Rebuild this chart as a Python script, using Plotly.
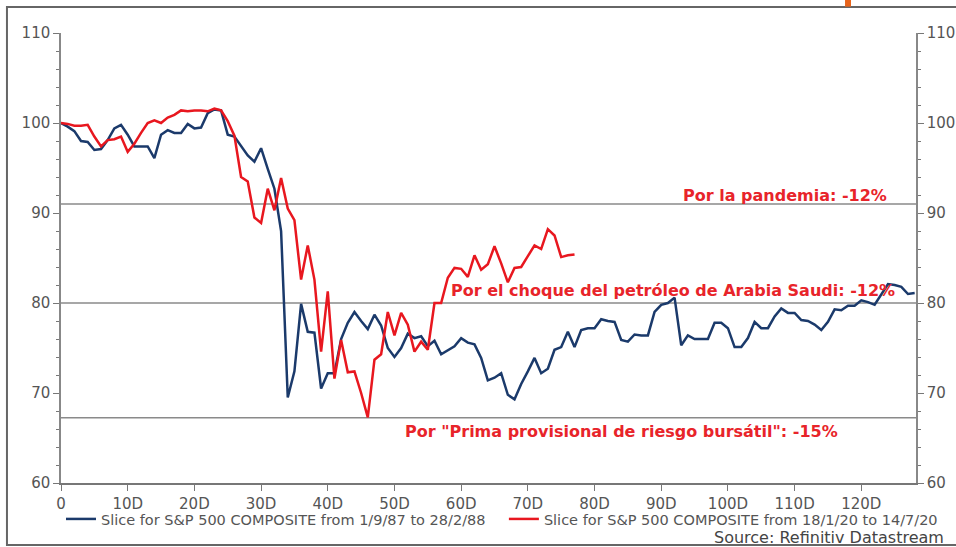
import plotly.graph_objects as go

# ---- data ----
blue_name = "Slice for S&P 500 COMPOSITE from 1/9/87 to 28/2/88"
red_name = "Slice for S&P 500 COMPOSITE from 18/1/20 to 14/7/20"

blue_values = [
    100.0, 99.6, 99.1, 98.0, 97.9, 97.0, 97.1, 98.1, 99.4, 99.8,
    98.7, 97.4, 97.4, 97.4, 96.1, 98.7, 99.2, 98.9, 98.9, 99.9,
    99.4, 99.5, 101.1, 101.5, 101.4, 98.7, 98.5, 97.4, 96.4, 95.7,
    97.2, 94.9, 92.7, 88.0, 69.5, 72.4, 79.9, 76.8, 76.7, 70.5,
    72.2, 72.2, 76.0, 77.8, 79.0, 78.0, 77.1, 78.7, 77.5, 75.0,
    74.0, 75.0, 76.6, 76.1, 76.3, 75.2, 75.8, 74.3, 74.8, 75.2,
    76.1, 75.6, 75.4, 73.9, 71.4, 71.7, 72.2, 69.8, 69.3, 71.0,
    72.4, 73.9, 72.2, 72.7, 74.8, 75.1, 76.8, 75.1, 77.0, 77.2,
    77.2, 78.2, 78.0, 77.9, 75.9, 75.7, 76.5, 76.4, 76.4, 79.0,
    79.8, 80.0, 80.6, 75.3, 76.4, 76.0, 76.0, 76.0, 77.8, 77.8,
    77.2, 75.1, 75.1, 76.1, 77.9, 77.2, 77.2, 78.5, 79.4, 78.9,
    78.9, 78.1, 78.0, 77.6, 77.0, 77.9, 79.3, 79.2, 79.7, 79.7,
    80.3, 80.1, 79.8, 81.0, 82.1, 82.0, 81.8, 81.0, 81.1,
]
red_values = [
    100.0, 99.9, 99.7, 99.7, 99.8, 98.5, 97.4, 98.1, 98.2, 98.5,
    96.8, 97.7, 98.9, 100.0, 100.3, 100.0, 100.6, 100.9, 101.4, 101.3,
    101.4, 101.4, 101.3, 101.6, 101.4, 100.2, 98.6, 94.0, 93.5, 89.5,
    88.9, 92.7, 90.3, 93.9, 90.5, 89.2, 82.6, 86.4, 82.6, 74.6,
    81.3, 71.6, 75.9, 72.3, 72.4, 70.0, 67.3, 73.7, 74.3, 79.0,
    76.4, 78.9, 77.6, 74.6, 75.7, 74.8, 80.0, 80.0, 82.8, 83.9,
    83.8, 82.9, 85.3, 83.7, 84.3, 86.3, 84.4, 82.3, 83.9, 84.0,
    85.2, 86.4, 86.0, 88.2, 87.5, 85.1, 85.3, 85.4,
]
blue_days = list(range(len(blue_values)))
red_days = list(range(len(red_values)))

x_tick_vals = [0, 10, 20, 30, 40, 50, 60, 70, 80, 90, 100, 110, 120]
x_tick_text = ["0", "10D", "20D", "30D", "40D", "50D", "60D", "70D", "80D",
               "90D", "100D", "110D", "120D"]
y_tick_vals = [60, 70, 80, 90, 100, 110]

ref_levels = [91.0, 80.0, 67.25]
ref_labels = ["Por la pandemia: -12%",
              "Por el choque del petróleo de Arabia Saudi: -12%",
              "Por \"Prima provisional de riesgo bursátil\": -15%"]
ref_label_x = [108.6, 91.7, 84.1]
ref_label_y = [92.0, 81.4, 65.7]

BLUE = "#1b3a6b"
RED = "#e8171f"
GRAY_TXT = "#555555"
FONT = "DejaVu Sans, Verdana, sans-serif"

fig = go.Figure()
fig.add_trace(go.Scatter(x=blue_days, y=blue_values, mode="lines", name=blue_name,
                         line=dict(color=BLUE, width=2.5), yaxis="y", legend="legend"))
fig.add_trace(go.Scatter(x=red_days, y=red_values, mode="lines", name=red_name,
                         line=dict(color=RED, width=2.5), yaxis="y2", legend="legend2"))

for lvl in ref_levels:
    fig.add_shape(type="line", xref="paper", x0=0, x1=1, yref="y", y0=lvl, y1=lvl,
                  line=dict(color="#8a8a8a", width=1.5), layer="below")

for txt, xv, yv in zip(ref_labels, ref_label_x, ref_label_y):
    fig.add_annotation(x=xv, y=yv, xref="x", yref="y", text=f"<b>{txt}</b>",
                       showarrow=False, xanchor="center", yanchor="middle",
                       font=dict(family=FONT, size=16, color="#e8242a"))

fig.add_annotation(x=1.035, y=-0.12, xref="paper", yref="paper",
                   text="Source: Refinitiv Datastream", showarrow=False,
                   xanchor="right", yanchor="middle",
                   font=dict(family=FONT, size=16, color="#444444"))

# image frame and small orange mark
fig.add_shape(type="rect", xref="paper", yref="paper", x0=-0.0632, x1=1.06,
              y0=-0.138, y1=1.0578, line=dict(color="#666666", width=2), layer="below")
fig.add_shape(type="rect", xref="paper", yref="paper", x0=0.917, x1=0.924,
              y0=1.0585, y1=1.08, line=dict(width=0), fillcolor="#e8641b")

axis_font = dict(family=FONT, size=15, color=GRAY_TXT)
yaxis_common = dict(range=[60, 110], tickvals=y_tick_vals, ticks="outside", ticklen=6,
                    tickcolor="#777777", showgrid=False, zeroline=False,
                    showline=True, linecolor="#888888", linewidth=1.5,
                    tickfont=axis_font, automargin=False,
                    minor=dict(dtick=2, ticks="outside", ticklen=3, tickcolor="#777777",
                               showgrid=False))

legend_common = dict(orientation="h", xanchor="left", y=-0.08, yanchor="middle",
                     font=dict(family=FONT, size=14.5, color=GRAY_TXT),
                     bgcolor="rgba(0,0,0,0)")

fig.update_layout(
    width=956, height=547,
    margin=dict(l=61, r=40, t=33, b=64),
    paper_bgcolor="white", plot_bgcolor="white",
    xaxis=dict(range=[0, 128.2], tickvals=x_tick_vals, ticktext=x_tick_text,
               ticks="outside", ticklen=6, tickcolor="#777777", showgrid=False,
               zeroline=False, showline=True, linecolor="#777777", linewidth=1.5,
               tickfont=axis_font, automargin=False),
    yaxis=dict(side="left", **yaxis_common),
    yaxis2=dict(side="right", overlaying="y", **yaxis_common),
    showlegend=True,
    legend=dict(x=0, **legend_common),
    legend2=dict(x=0.518, **legend_common),
)

fig.write_html("out.html", config={"displayModeBar": False},
               post_script="document.body.style.margin='0';")
